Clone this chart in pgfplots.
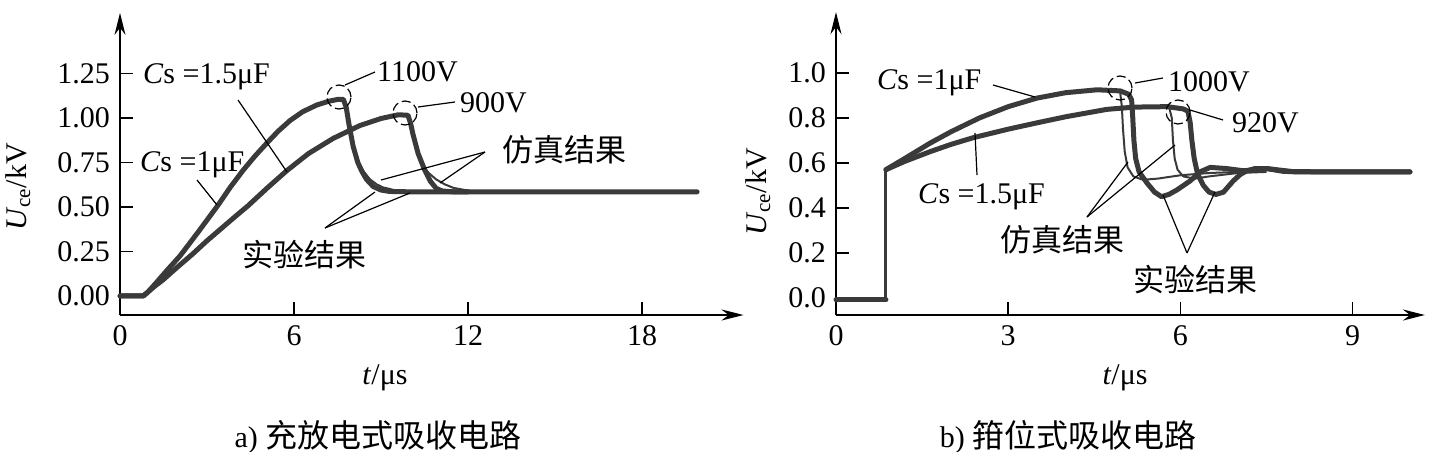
\documentclass[border=0pt]{standalone}
\usepackage{pgfplots}
\pgfplotsset{compat=1.18}
\usepackage{fontspec}
\setmainfont{Liberation Serif}
\newfontfamily\cjk{Noto Sans CJK SC}
\usetikzlibrary{arrows.meta}
\definecolor{curve}{HTML}{3A3A3A}
\newcommand{\cjkt}[1]{{\cjk\fontsize{31}{34}\selectfont #1}}
\newcommand{\cjkc}[1]{{\cjk\fontsize{32}{34}\selectfont #1}}
\begin{document}
\fontsize{30}{34}\selectfont
\begin{tikzpicture}[lead/.style={line width=1.2pt}, circ/.style={line width=1.2pt, dash pattern=on 9pt off 4pt}]
\useasboundingbox (0pt,0pt) rectangle (1429pt,-452pt);
\pgfplotsset{
  myaxis/.style={
    anchor=south west,
    axis lines=left,
    axis line style={line width=2pt, -{Stealth[length=22pt,width=11pt]}},
    tick align=inside,
    major tick length=13pt,
    tick style={line width=1.5pt, black},
    tick label style={font=\fontsize{30}{34}\selectfont},
    /pgf/number format/assume math mode=true,
    clip=false,
  },
  expc/.style={line width=5pt, color=curve, line join=round, line cap=round},
  simc/.style={line width=2pt, color=curve, line join=round},
}
% ---------------- left panel ----------------
\begin{axis}[myaxis, at={(120pt,-315pt)}, x=29pt, y=178pt,
  xmin=0, xmax=21.5, ymin=-0.107, ymax=1.59,
  xtick={0,6,12,18}, ytick={0,0.25,0.5,0.75,1,1.25},
  yticklabel style={/pgf/number format/.cd, fixed, fixed zerofill, precision=2},
  ]
\addplot[simc] coordinates {(7.95,0.9)(8.05,0.82)(8.2,0.76)(8.4,0.7)(8.62,0.655)(8.85,0.627)(9.07,0.61)(9.5,0.593)(9.9,0.587)(10.5,0.585)};
\addplot[simc] coordinates {(10.3,0.78)(10.45,0.73)(10.65,0.69)(10.9,0.655)(11.2,0.627)(11.5,0.607)(12.07,0.59)(12.6,0.585)};
\addplot[expc] coordinates {(0,0)(0.8,0)(0.95,0.02)(1.2,0.065)(1.6,0.14)(2.07,0.225)(2.7,0.36)(3.38,0.51)(3.8,0.61)(4.24,0.705)(4.65,0.785)(5.07,0.86)(5.45,0.925)(5.86,0.985)(6.3,1.035)(6.79,1.073)(7.2,1.094)(7.5,1.104)(7.7,1.105)(7.8,1.06)(7.9,0.96)(8.04,0.84)(8.2,0.75)(8.34,0.70)(8.5,0.655)(8.73,0.615)(9.0,0.595)(9.3,0.587)(10,0.585)(19.9,0.585)};
\addplot[expc] coordinates {(0,0)(0.8,0)(0.95,0.02)(1.2,0.055)(1.48,0.09)(2.0,0.165)(2.5,0.235)(3.0,0.31)(3.5,0.38)(4.0,0.45)(4.41,0.506)(5.1,0.61)(5.76,0.705)(6.5,0.80)(7.35,0.885)(8.28,0.958)(9.0,0.997)(9.6,1.018)(9.93,1.015)(10.02,0.97)(10.1,0.91)(10.28,0.80)(10.5,0.71)(10.7,0.645)(10.9,0.605)(11.1,0.59)(11.5,0.585)(12,0.585)};
\end{axis}
% ---------------- right panel ----------------
\begin{axis}[myaxis, at={(836pt,-315pt)}, x=57.4pt, y=225pt,
  xmin=0, xmax=10.26, ymin=-0.076, ymax=1.27,
  xtick={0,3,6,9}, ytick={0,0.2,0.4,0.6,0.8,1.0},
  yticklabel style={/pgf/number format/.cd, fixed, fixed zerofill, precision=1},
  ]
\addplot[simc] coordinates {(4.95,0.915)(4.98,0.85)(5.0,0.75)(5.03,0.65)(5.08,0.58)(5.18,0.54)(5.35,0.525)(5.6,0.53)(6.0,0.545)(6.5,0.555)(7.0,0.56)};
\addplot[simc] coordinates {(5.8,0.85)(5.85,0.80)(5.87,0.70)(5.9,0.62)(5.95,0.57)(6.05,0.54)(6.25,0.53)(6.5,0.54)(7.0,0.555)(7.5,0.56)};
\addplot[expc] coordinates {(0,-0.009)(0.87,-0.009)};
\addplot[line width=3pt, color=curve] coordinates {(0.87,-0.009)(0.87,0.57)};
\addplot[expc] coordinates {(0.87,0.57)(1.2,0.607)(1.64,0.65)(2.0,0.682)(2.39,0.712)(3.0,0.75)(3.5,0.778)(4.0,0.805)(4.72,0.838)(5.2,0.848)(5.77,0.85)(6.05,0.84)(6.13,0.83)(6.17,0.78)(6.2,0.70)(6.24,0.62)(6.3,0.55)(6.4,0.5)(6.5,0.47)(6.62,0.46)(6.75,0.47)(6.92,0.52)(7.05,0.55)(7.16,0.565)(7.3,0.575)(7.5,0.575)(8,0.56)(10,0.56)};
\addplot[expc] coordinates {(0.87,0.57)(1.2,0.62)(1.64,0.688)(2.0,0.738)(2.5,0.80)(3.0,0.85)(3.5,0.888)(4.0,0.912)(4.55,0.925)(4.95,0.92)(5.1,0.905)(5.15,0.88)(5.17,0.80)(5.19,0.70)(5.22,0.62)(5.28,0.56)(5.42,0.51)(5.55,0.47)(5.67,0.45)(5.8,0.46)(5.94,0.48)(6.17,0.52)(6.34,0.56)(6.52,0.58)(6.8,0.575)(7.1,0.565)(7.5,0.575)(7.8,0.562)(8.5,0.56)(10,0.56)};
\end{axis}
% ---------------- annotations (pixel coordinates) ----------------
\begin{scope}[x=1pt, y=-1pt, every node/.style={inner sep=0pt}]
% left
\node[anchor=west] at (143,77) {\textit{C}s =1.5μF};
\draw[lead] (238,100) -- (287,172);
\node[anchor=west] at (140,165) {\textit{C}s =1μF};
\draw[lead] (197,180) -- (217,205);
\node[anchor=west] at (377,72) {1100V};
\draw[lead] (345,85) -- (375,72);
\draw[circ] (339,97) circle (12pt);
\node[anchor=west] at (460,103) {900V};
\draw[lead] (418,107) -- (455,102);
\draw[circ] (405,113) circle (12pt);
\node[anchor=west] at (502,150) {\cjkt{仿真结果}};
\draw[lead] (485,152) -- (381,180);
\draw[lead] (485,152) -- (440,183);
\node[anchor=west] at (242,255) {\cjkt{实验结果}};
\draw[lead] (325,228) -- (375,192);
\draw[lead] (325,228) -- (410,193);
\node[rotate=90] at (18,187) {\textit{U}\textsubscript{ce}/kV};
\node at (385,378) {\textit{t}/μs};
\node at (378,437) {a) \cjkc{充放电式吸收电路}};
% right
\node[anchor=west] at (877,83) {\textit{C}s =1μF};
\draw[lead] (993,85) -- (1035,97);
\node[anchor=west] at (918,197) {\textit{C}s =1.5μF};
\draw[lead] (977,175) -- (975,133);
\node[anchor=west] at (1168,82) {1000V};
\draw[lead] (1135,83) -- (1163,78);
\draw[circ] (1120,88) circle (12pt);
\node[anchor=west] at (1232,123) {920V};
\draw[lead] (1190,110) -- (1223,120);
\draw[circ] (1178,112) circle (12pt);
\node[anchor=west] at (1000,240) {\cjkt{仿真结果}};
\draw[lead] (1087,217) -- (1128,162);
\draw[lead] (1087,217) -- (1175,145);
\node[anchor=west] at (1133,280) {\cjkt{实验结果}};
\draw[lead] (1187,253) -- (1163,195);
\draw[lead] (1187,253) -- (1215,192);
\node[rotate=90] at (758,192) {\textit{U}\textsubscript{ce}/kV};
\node at (1125,378) {\textit{t}/μs};
\node at (1068,437) {b) \cjkc{箝位式吸收电路}};
\end{scope}
\end{tikzpicture}
\end{document}
